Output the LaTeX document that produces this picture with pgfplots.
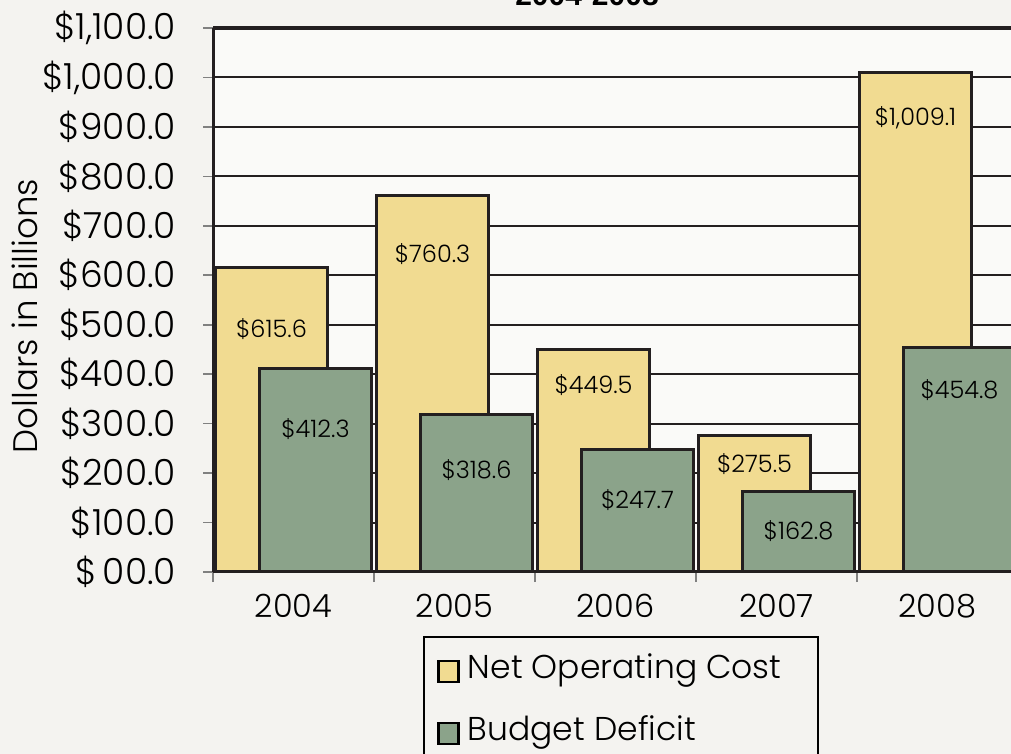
\documentclass[border=0pt]{standalone}
\usepackage{pgfplots}
\pgfplotsset{compat=1.18}
\usepackage{fontspec}
\setmainfont{Poppins}[UprightFont=* Light]
\newfontfamily\titlefont{Liberation Sans}
\definecolor{bgc}{HTML}{F4F3F0}
\definecolor{plotbg}{HTML}{FAFAF8}
\definecolor{ncost}{HTML}{F1DB91}
\definecolor{bdef}{HTML}{8BA38A}
\definecolor{linec}{HTML}{231F20}
\definecolor{tickc}{HTML}{808080}
\begin{document}
\begin{tikzpicture}
\fill[bgc] (0pt,0pt) rectangle (505.5pt,377pt);
\begin{axis}[
  at={(106.5pt,91pt)}, anchor=south west,
  scale only axis, width=402.5pt, height=272pt,
  xmin=-0.5, xmax=4.5, ymin=0, ymax=1100,
  clip=false,
  axis background/.style={fill=plotbg},
  axis line style={draw=none},
  ybar, bar width=56pt,
  xtick pos=bottom, ytick pos=left,
  xtick={0,1,2,3,4}, xticklabels={2004,2005,2006,2007,2008},
  major x tick style={draw=none},
  minor xtick={-0.5,0.5,1.5,2.5,3.5,4.5},
  ytick={0,100,...,1100},
  yticklabels={\$\hspace*{3pt}00.0,\$100.0,\$200.0,\$300.0,\$400.0,\$500.0,\$600.0,\$700.0,\$800.0,\$900.0,{\$1,000.0},{\$1,100.0}},
  tick align=outside,
  major tick length=5pt, minor tick length=5pt,
  tick style={tickc, line width=0.8pt},
  ymajorgrids, grid style={linec, line width=1pt},
  ticklabel style={text=black},
  xticklabel style={yshift=-2.5pt, font=\fontsize{16}{19}\selectfont},
  yticklabel style={xshift=-10pt, font=\fontsize{18}{20}\selectfont},
  ylabel={Dollars in Billions},
  ylabel style={at={(axis description cs:-0.2335,0.4706)}, anchor=center, font=\fontsize{17}{20}\selectfont},
  legend style={at={(axis description cs:0.2783,-0.1526)}, anchor=north west, draw=none, fill=none, inner sep=0pt,
    yshift=3pt, font=\fontsize{16.5}{20}\selectfont, row sep=13pt, nodes={inner xsep=4pt}},
  legend cell align=left,
  legend image code/.code={\draw[#1, draw=black, line width=1.2pt] (0pt,-7.3pt) rectangle (10pt,3.2pt);},
]
\draw[black, line width=0.6pt, fill=bgc] (axis description cs:0.2621,-0.1195) rectangle (axis description cs:0.7516,-0.45);
\addplot[fill=ncost, draw=linec, line width=1.5pt, bar shift=-11pt] coordinates {(0,615.6) (1,760.3) (2,449.5) (3,275.5) (4,1009.1)};
\addlegendentry{Net Operating Cost}
\addplot[fill=bdef, draw=linec, line width=1.5pt, bar shift=11pt] coordinates {(0,412.3) (1,318.6) (2,247.7) (3,162.8) (4,454.8)};
\addlegendentry{Budget Deficit}
\draw[linec, line width=1.5pt] (axis cs:-0.5,0) -- (axis cs:-0.5,1100);
\draw[linec, line width=1.5pt] (axis cs:-0.5,0) -- (axis cs:4.5,0);
\draw[linec, line width=2pt] (axis cs:-0.5,1100) -- (axis cs:4.5,1100);
\node[anchor=base, font=\titlefont\bfseries\fontsize{15}{18}\selectfont, yshift=11pt] at (axis description cs:0.4646,1) {2004-2008};
\begin{scope}[every node/.style={font=\fontsize{12}{14}\selectfont, anchor=center}]
\node at (axis cs:-0.1366,491) {\$615.6};
\node at (axis cs:0.8634,643) {\$760.3};
\node at (axis cs:1.8634,378) {\$449.5};
\node at (axis cs:2.8634,218) {\$275.5};
\node at (axis cs:3.8634,918) {\$1,009.1};
\node at (axis cs:0.1366,289) {\$412.3};
\node at (axis cs:1.1366,206) {\$318.6};
\node at (axis cs:2.1366,146) {\$247.7};
\node at (axis cs:3.1366,83) {\$162.8};
\node at (axis cs:4.1366,368) {\$454.8};
\end{scope}
\end{axis}
\pgfresetboundingbox
\path[use as bounding box] (0pt,0pt) rectangle (505.5pt,377pt);
\end{tikzpicture}
\end{document}
